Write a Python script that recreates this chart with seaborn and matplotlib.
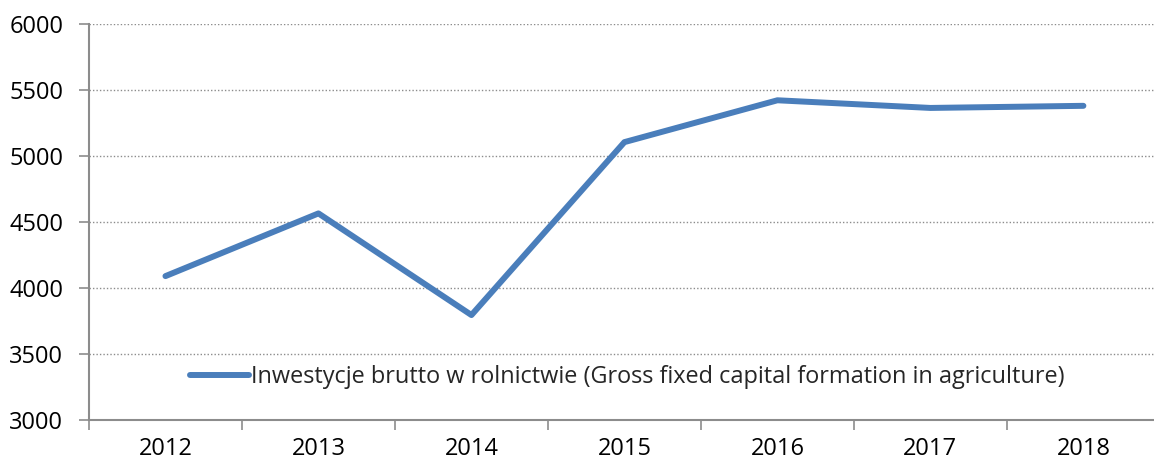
import pandas as pd
import matplotlib.pyplot as plt
import seaborn as sns
from matplotlib.ticker import FixedLocator

# data
years = ["2012", "2013", "2014", "2015", "2016", "2017", "2018"]
investment = [4090, 4565, 3795, 5105, 5422, 5364, 5380]
label = "Inwestycje brutto w rolnictwie (Gross fixed capital formation in agriculture)"

df = pd.DataFrame({"year": years, "value": investment})

sns.set_style("white")
plt.rcParams["font.family"] = ["Open Sans", "DejaVu Sans"]

fig = plt.figure(figsize=(11.54, 4.63), dpi=100)
ax = fig.add_axes([0.0771, 0.0929, 0.928, 0.8553])

sns.lineplot(data=df, x="year", y="value", color="#4A7EBB", linewidth=4.3,
             label=label, ax=ax, solid_capstyle="round")

# axes limits and ticks
ax.set_ylim(3000, 6000)
ax.set_yticks(range(3000, 6001, 500))
ax.set_xlim(-0.5, len(years) - 0.5)
ax.set_xticks(range(len(years)))
ax.set_xticklabels(years)
ax.xaxis.set_minor_locator(FixedLocator([i - 0.5 for i in range(len(years) + 1)]))
ax.tick_params(axis="x", which="major", bottom=True, length=0, pad=12,
               labelsize=17, labelcolor="black")
ax.tick_params(axis="x", which="minor", bottom=True, length=7, width=1.2,
               color="#8C8C8C", direction="out")
ax.tick_params(axis="y", left=True, length=7, width=1.2, color="#8C8C8C", direction="out",
               labelsize=17, pad=11.5, labelcolor="black")

# dotted grid
ax.yaxis.grid(True, linestyle=(0, (1, 1.5)), color="#8C8C8C", linewidth=1)
ax.set_axisbelow(True)

for side in ["top", "right"]:
    ax.spines[side].set_visible(False)
for side in ["left", "bottom"]:
    ax.spines[side].set_color("#8C8C8C")
    ax.spines[side].set_linewidth(1.5)

ax.set_xlabel("")
ax.set_ylabel("")

# legend inside, bottom center
ax.legend(loc="center", bbox_to_anchor=(0.503, 0.108), frameon=False, fontsize=16.9,
          handlelength=2.5, handletextpad=0.1, borderaxespad=0)

fig.savefig("out.png", dpi=100)
